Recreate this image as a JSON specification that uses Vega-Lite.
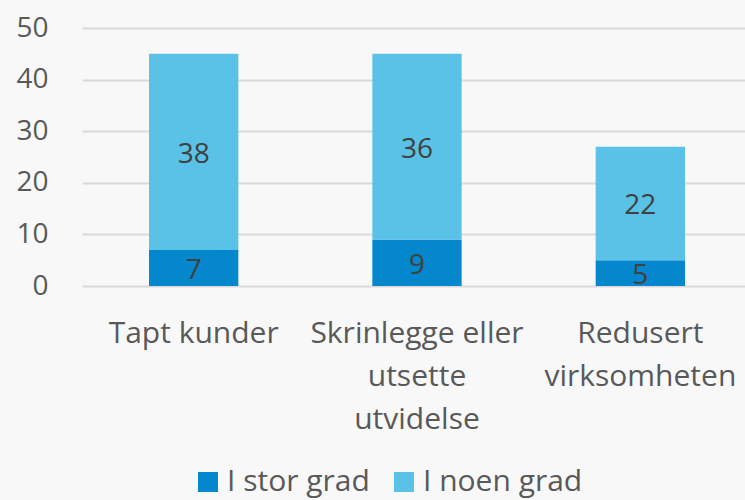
{
  "$schema": "https://vega.github.io/schema/vega-lite/v6.json",
  "autosize": {"type": "none"},
  "padding": {"left": 82, "top": 28, "right": 0, "bottom": 214},
  "width": 663,
  "height": 258,
  "background": "#f8f8f8",
  "config": {
    "view": {"stroke": null},
    "font": "Open Sans"
  },
  "data": {
    "values": [
      {"cat": "Tapt kunder", "series": "I stor grad", "o": 1, "value": 7},
      {"cat": "Tapt kunder", "series": "I noen grad", "o": 2, "value": 38},
      {"cat": "Skrinlegge eller|utsette|utvidelse", "series": "I stor grad", "o": 1, "value": 9},
      {"cat": "Skrinlegge eller|utsette|utvidelse", "series": "I noen grad", "o": 2, "value": 36},
      {"cat": "Redusert|virksomheten", "series": "I stor grad", "o": 1, "value": 5},
      {"cat": "Redusert|virksomheten", "series": "I noen grad", "o": 2, "value": 22}
    ]
  },
  "transform": [
    {"stack": "value", "groupby": ["cat"], "sort": [{"field": "o"}], "as": ["v0", "v1"]},
    {"calculate": "(datum.v0 + datum.v1) / 2", "as": "mid"}
  ],
  "encoding": {
    "x": {
      "field": "cat", "type": "nominal", "sort": null, "title": null,
      "scale": {"paddingInner": 0.6, "paddingOuter": 0.3, "range": [0, 670]},
      "axis": {
        "domain": false, "ticks": false, "labelAngle": 0, "labelLimit": 0,
        "labelExpr": "split(datum.label, '|')",
        "labelFontSize": 30, "labelColor": "#595959", "labelPadding": 32,
        "labelLineHeight": 43, "labelFont": "Open Sans"
      }
    }
  },
  "layer": [
    {
      "mark": {"type": "bar"},
      "encoding": {
        "y": {
          "field": "v0", "type": "quantitative", "title": null,
          "scale": {"domain": [0, 50], "nice": false},
          "axis": {
            "values": [0, 10, 20, 30, 40, 50], "domain": false, "ticks": false,
            "gridColor": "#d9d9d9", "gridWidth": 2,
            "labelFontSize": 28, "labelColor": "#595959", "labelPadding": 34
          }
        },
        "y2": {"field": "v1"},
        "color": {
          "field": "series", "type": "nominal",
          "scale": {"domain": ["I stor grad", "I noen grad"], "range": ["#0487cc", "#5bc2e7"]},
          "legend": {
            "title": null, "orient": "none", "direction": "horizontal",
            "legendX": 111, "legendY": 439,
            "symbolType": "square", "symbolSize": 400, "symbolStrokeWidth": 0,
            "labelFontSize": 30, "labelColor": "#595959", "columnPadding": 19,
            "labelOffset": 4, "labelLimit": 300
          }
        }
      }
    },
    {
      "mark": {"type": "text", "fontSize": 28, "color": "#404040", "baseline": "middle", "dy": 3},
      "encoding": {
        "y": {"field": "mid", "type": "quantitative"},
        "text": {"field": "value", "type": "quantitative"}
      }
    }
  ]
}
